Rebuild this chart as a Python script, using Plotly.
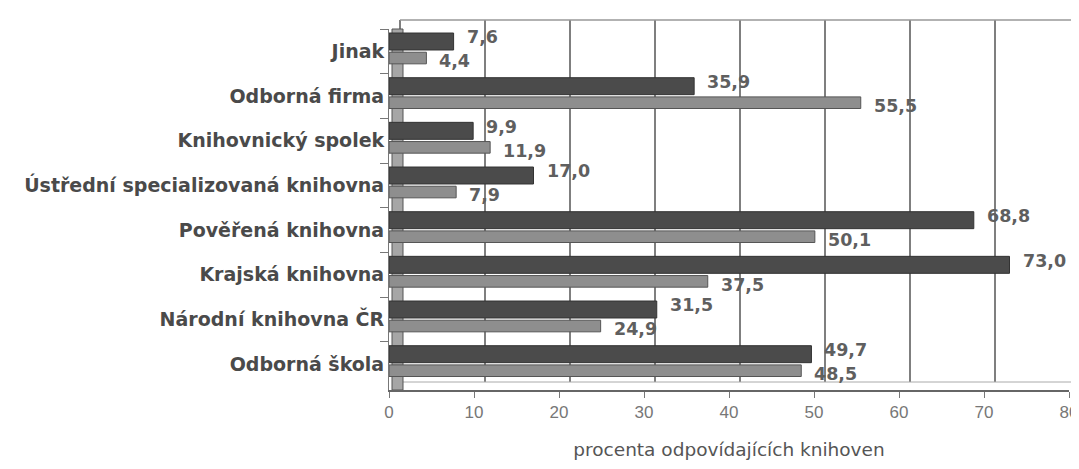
import plotly.graph_objects as go

categories = [
    "Jinak",
    "Odborná firma",
    "Knihovnický spolek",
    "Ústřední specializovaná knihovna",
    "Pověřená knihovna",
    "Krajská knihovna",
    "Národní knihovna ČR",
    "Odborná škola",
]
series_dark = [7.6, 35.9, 9.9, 17.0, 68.8, 73.0, 31.5, 49.7]
series_light = [4.4, 55.5, 11.9, 7.9, 50.1, 37.5, 24.9, 48.5]
x_ticks = [0, 10, 20, 30, 40, 50, 60, 70, 80]
x_title = "procenta odpovídajících knihoven"


def fmt(v):
    return f"{v:.1f}".replace(".", ",")


label_font = dict(family="DejaVu Sans", size=17.5, color="#5f5f5f", weight="bold")

fig = go.Figure()
fig.add_trace(go.Bar(
    y=categories, x=series_dark, orientation="h", name="Řada 1",
    offset=-0.41, width=0.38,
    marker=dict(color="#4b4b4b", line=dict(color="#333333", width=1)),
))
fig.add_trace(go.Bar(
    y=categories, x=series_light, orientation="h", name="Řada 2",
    offset=0.02, width=0.26,
    marker=dict(color="#8e8e8e", line=dict(color="#555555", width=1)),
))

# value labels (Czech decimal comma), dark series above-right, light below-right
for cat, v in zip(categories, series_dark):
    fig.add_annotation(x=v, y=cat, xref="x", yref="y", text=fmt(v), showarrow=False,
                       xanchor="left", yanchor="middle", xshift=11, yshift=14,
                       font=label_font)
for cat, v in zip(categories, series_light):
    fig.add_annotation(x=v, y=cat, xref="x", yref="y", text=fmt(v), showarrow=False,
                       xanchor="left", yanchor="middle", xshift=11, yshift=-10,
                       font=label_font)

fig.update_layout(
    width=1079, height=469,
    margin=dict(l=381, r=18, t=21, b=87),
    paper_bgcolor="white", plot_bgcolor="rgba(0,0,0,0)",
    barmode="overlay",
    showlegend=False,
    font=dict(family="Liberation Sans", color="#444444"),
)
fig.update_xaxes(
    range=[0, 80], tickvals=x_ticks, ticktext=[str(t) for t in x_ticks],
    showgrid=False, zeroline=False, automargin=False,
    showline=True, linecolor="#666666", linewidth=2,
    ticks="outside", ticklen=6, tickcolor="#777777",
    tickfont=dict(family="Liberation Sans", size=17, color="#777777"),
    title=dict(text=x_title, font=dict(family="DejaVu Sans", size=18.5, color="#555555"), standoff=22),
)
fig.update_yaxes(
    autorange="reversed", showgrid=False, automargin=False,
    showline=True, linecolor="#777777", linewidth=1,
    ticks="outside", tickson="boundaries", ticklen=8, tickcolor="#777777",
    tickfont=dict(family="DejaVu Sans", size=19, color="#4a4a4a", weight="bold"),
)

# 3D back plane: vertical gridlines shifted right/up from the front axis
for t in x_ticks:
    fig.add_shape(type="line", layer="below", xref="x", yref="paper",
                  xsizemode="pixel", xanchor=t, x0=11, x1=11,
                  ysizemode="pixel", yanchor=1, y0=9, y1=-353,
                  line=dict(color="#555555", width=1.5))
# back top edge
fig.add_shape(type="line", layer="below", xref="paper", yref="paper",
              xsizemode="pixel", xanchor=0, x0=11, x1=700,
              ysizemode="pixel", yanchor=1, y0=9, y1=9,
              line=dict(color="#999999", width=1.5))
# back floor edge
fig.add_shape(type="line", layer="below", xref="paper", yref="paper",
              xsizemode="pixel", xanchor=0, x0=11, x1=700,
              ysizemode="pixel", yanchor=0, y0=8, y1=8,
              line=dict(color="#aaaaaa", width=1))
# left wall
fig.add_shape(type="rect", layer="below", xref="x", yref="paper",
              xsizemode="pixel", xanchor=0, x0=3, x1=14,
              y0=0, y1=1,
              fillcolor="#a6a6a6", line=dict(color="#555555", width=1))

fig.write_html("out.html")
